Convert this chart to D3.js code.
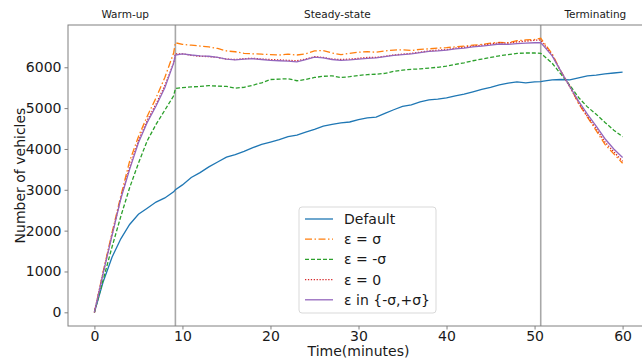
<!DOCTYPE html>
<html>
<head>
<meta charset="utf-8">
<script src="https://cdn.jsdelivr.net/npm/d3@7"></script>
<style>
  html, body { margin: 0; padding: 0; background: #fff; overflow: hidden; }
  svg { display: block; font-family: "DejaVu Sans", sans-serif; }
</style>
</head>
<body>
<svg id="chart" width="642" height="364"></svg>
<script>
// Time axis (minutes); 9.2 and 50.7 mark the phase boundaries
const times = [0,1,2,3,4,5,6,7,8,9,9.2,
  10,11,12,13,14,15,16,17,18,19,20,21,22,23,24,25,26,27,28,29,30,
  31,32,33,34,35,36,37,38,39,40,41,42,43,44,45,46,47,48,49,50,50.7,
  51,52,53,54,55,56,57,58,59,60];

const defaultSeries = [0,750,1350,1800,2150,2400,2550,2700,2800,2950,3000,
  3120,3300,3420,3560,3680,3800,3860,3940,4030,4110,4170,4230,4300,4340,4410,4480,4560,4600,4640,4660,4720,
  4760,4780,4870,4960,5040,5080,5150,5200,5220,5250,5300,5340,5400,5460,5510,5570,5610,5640,5620,5640,5650,
  5660,5690,5700,5690,5740,5790,5810,5840,5860,5880];

const epsPlusSigma = [0,1000,1950,2850,3700,4300,4800,5250,5750,6350,6600,
  6560,6540,6520,6500,6460,6400,6380,6340,6330,6320,6310,6300,6320,6300,6330,6400,6410,6350,6310,6340,6370,
  6380,6370,6400,6420,6430,6410,6440,6450,6470,6480,6500,6520,6540,6560,6590,6610,6600,6650,6670,6680,6710,
  6620,6330,5900,5540,5110,4780,4450,4110,3880,3650];

const epsMinusSigma = [0,800,1600,2350,3050,3650,4200,4600,4950,5300,5480,
  5500,5520,5530,5550,5540,5530,5490,5510,5560,5620,5700,5710,5720,5670,5700,5750,5780,5790,5750,5770,5800,
  5820,5830,5850,5900,5930,5950,5960,5980,6000,6030,6070,6110,6160,6200,6240,6280,6310,6340,6350,6350,6340,
  6290,6100,5830,5560,5260,5030,4850,4650,4460,4300];

const epsZero = [0,980,1900,2800,3550,4200,4700,5100,5550,6100,6330,
  6330,6290,6270,6260,6240,6200,6190,6210,6220,6200,6190,6180,6170,6160,6200,6260,6240,6200,6190,6200,6220,
  6240,6240,6270,6300,6320,6340,6370,6400,6420,6430,6470,6490,6520,6540,6570,6600,6590,6620,6640,6660,6670,
  6580,6300,5890,5520,5130,4800,4500,4170,3930,3700];

const epsMixed = [0,960,1880,2780,3500,4150,4650,5050,5500,6100,6300,
  6330,6300,6280,6270,6240,6200,6180,6200,6210,6190,6170,6160,6150,6130,6190,6250,6230,6190,6170,6180,6200,
  6220,6230,6260,6290,6310,6330,6360,6390,6400,6420,6450,6470,6500,6520,6540,6570,6560,6580,6590,6600,6600,
  6530,6280,5900,5530,5170,4850,4560,4250,4000,3790];

const seriesNames = ["Default", "ε = σ", "ε = -σ", "ε = 0", "ε in {-σ,+σ}"];
const seriesValues = [defaultSeries, epsPlusSigma, epsMinusSigma, epsZero, epsMixed];
const seriesColors = ["#1f77b4", "#ff7f0e", "#2ca02c", "#d62728", "#9467bd"];
const seriesDash = [null, "7,2.5,1.5,2.5", "4,2", "1.3,1.6", null];

const xTicks = [0, 10, 20, 30, 40, 50, 60];
const yTicks = [0, 1000, 2000, 3000, 4000, 5000, 6000];

const phaseBoundaries = [9.2, 50.7];
const phaseNames = ["Warm-up", "Steady-state", "Terminating"];
const phaseLabelAt = [3.5, 27.6, 56.9];

const svg = d3.select("#chart");
const x = d3.scaleLinear().domain([-3, 63]).range([68, 649]);
const y = d3.scaleLinear().domain([-335, 7035]).range([326, 25]);

// phase boundary lines
svg.append("g").selectAll("line").data(phaseBoundaries).join("line")
  .attr("x1", d => x(d)).attr("x2", d => x(d))
  .attr("y1", y.range()[0]).attr("y2", y.range()[1])
  .attr("stroke", "#a8a8a8").attr("stroke-width", 1.6);

// series lines
const line = d3.line().x((d, i) => x(times[i])).y(d => y(d));
svg.append("g").selectAll("path").data(seriesValues).join("path")
  .attr("d", d => line(d))
  .attr("fill", "none")
  .attr("stroke", (d, i) => seriesColors[i])
  .attr("stroke-width", 1.3)
  .attr("stroke-dasharray", (d, i) => seriesDash[i]);

// frame
svg.append("rect")
  .attr("x", x.range()[0]).attr("y", y.range()[1])
  .attr("width", x.range()[1] - x.range()[0])
  .attr("height", y.range()[0] - y.range()[1])
  .attr("fill", "none").attr("stroke", "#808080").attr("stroke-width", 1);

// axes
const xAxis = svg.append("g").attr("transform", `translate(0,${y.range()[0]})`)
  .call(d3.axisBottom(x).tickValues(xTicks).tickFormat(d3.format("d"))
    .tickSize(3.5).tickPadding(2).tickSizeOuter(0));
const yAxis = svg.append("g").attr("transform", `translate(${x.range()[0]},0)`)
  .call(d3.axisLeft(y).tickValues(yTicks).tickFormat(d3.format("d"))
    .tickSize(3.5).tickPadding(3).tickSizeOuter(0));
[xAxis, yAxis].forEach(g => {
  g.select(".domain").remove();
  g.selectAll(".tick line").attr("stroke", "#808080");
  g.selectAll("text").attr("fill", "#1a1a1a").style("font-size", "14px")
    .style("font-family", "'DejaVu Sans', sans-serif");
});

// axis titles
svg.append("text").attr("x", (x.range()[0] + x.range()[1]) / 2).attr("y", 356)
  .attr("text-anchor", "middle").attr("fill", "#1a1a1a").style("font-size", "14px")
  .text("Time(minutes)");
svg.append("text")
  .attr("transform", `translate(25,${(y.range()[0] + y.range()[1]) / 2}) rotate(-90)`)
  .attr("text-anchor", "middle").attr("fill", "#1a1a1a").style("font-size", "14px")
  .text("Number of vehicles");

// phase labels
svg.append("g").selectAll("text").data(phaseNames).join("text")
  .attr("x", (d, i) => x(phaseLabelAt[i])).attr("y", 18)
  .attr("text-anchor", "middle").attr("fill", "#1a1a1a").style("font-size", "10.5px")
  .text(d => d);

// legend
const lg = svg.append("g").attr("transform", "translate(299,207)");
lg.append("rect").attr("width", 137).attr("height", 106).attr("rx", 3)
  .attr("fill", "#fff").attr("fill-opacity", 0.8)
  .attr("stroke", "#d9d9d9").attr("stroke-width", 1);
const items = lg.selectAll("g.item").data(seriesNames).join("g")
  .attr("class", "item")
  .attr("transform", (d, i) => `translate(0,${12 + i * 20.2})`);
items.append("line").attr("x1", 6).attr("x2", 34).attr("y1", 0).attr("y2", 0)
  .attr("stroke", (d, i) => seriesColors[i]).attr("stroke-width", 1.3)
  .attr("stroke-dasharray", (d, i) => seriesDash[i]);
items.append("text").attr("x", 45).attr("y", 5)
  .attr("fill", "#1a1a1a").style("font-size", "14px").text(d => d);
</script>
</body>
</html>
